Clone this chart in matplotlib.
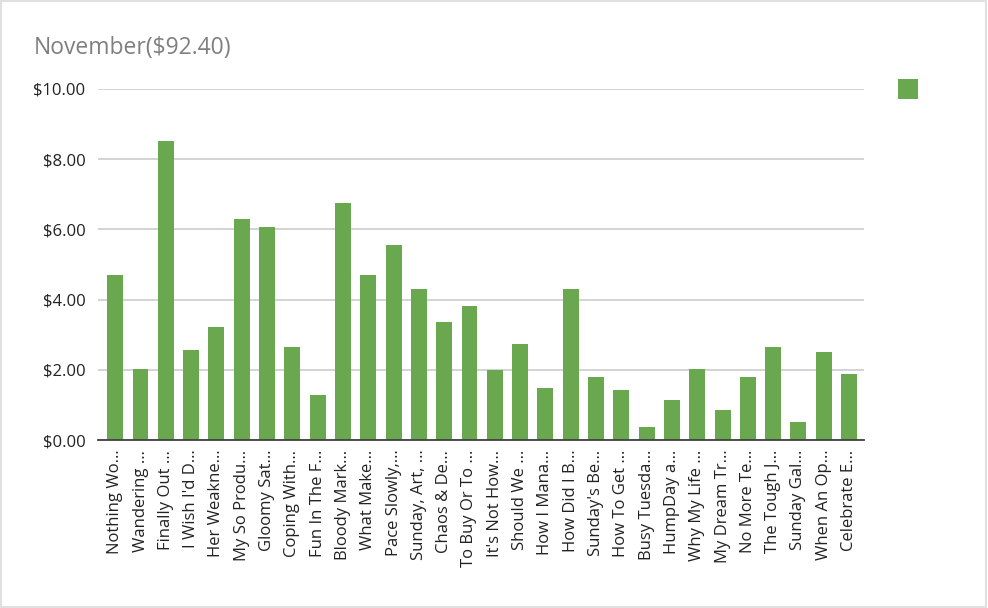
import matplotlib
matplotlib.use("Agg")
import matplotlib.pyplot as plt
from matplotlib.patches import Rectangle

plt.rcParams['font.family'] = ['Open Sans', 'DejaVu Sans']

title = "November($92.40)"
categories = [
    "Nothing Wo…", "Wandering …", "Finally Out …", "I Wish I'd D…", "Her Weakne…",
    "My So Produ…", "Gloomy Sat…", "Coping With…", "Fun In The F…", "Bloody Mark…",
    "What Make…", "Pace Slowly,…", "Sunday, Art, …", "Chaos & De…", "To Buy Or To …",
    "It's Not How…", "Should We …", "How I Mana…", "How Did I B…", "Sunday's Be…",
    "How To Get …", "Busy Tuesda…", "HumpDay a…", "Why My Life …", "My Dream Tr…",
    "No More Te…", "The Tough J…", "Sunday Gal…", "When An Op…", "Celebrate E…",
]
values = [
    4.71, 2.02, 8.53, 2.55, 3.21,
    6.31, 6.08, 2.64, 1.27, 6.74,
    4.71, 5.56, 4.29, 3.35, 3.82,
    1.99, 2.74, 1.47, 4.29, 1.80,
    1.42, 0.38, 1.13, 2.03, 0.85,
    1.80, 2.64, 0.51, 2.50, 1.89,
]
yticks = [0, 2, 4, 6, 8, 10]
ytick_labels = ["$0.00", "$2.00", "$4.00", "$6.00", "$8.00", "$10.00"]
bar_color = "#6AA84F"

W, H = 988, 608
fig = plt.figure(figsize=(W / 100, H / 100), dpi=100)
fig.patch.set_facecolor("white")

ax = fig.add_axes([98 / W, 1 - 440 / H, (864 - 98) / W, (440 - 89) / H])
x = list(range(len(categories)))
bars = ax.bar(x, values, width=0.63, color=bar_color, zorder=3)

ax.set_xlim(-0.68, 29.59)
ax.set_ylim(0, 10)
ax.set_yticks(yticks)
ax.set_yticklabels(ytick_labels, fontsize=12, color="#222222")
ax.set_xticks(x)
ax.set_xticklabels(categories, rotation=90, fontsize=12, color="#222222",
                   va="top", ha="center")
ax.tick_params(axis="both", length=0)
ax.tick_params(axis="y", pad=9)
ax.tick_params(axis="x", pad=7)
ax.grid(axis="y", color="#d0d0d0", linewidth=1.3, zorder=0)
ax.set_axisbelow(True)
for s in ["left", "right", "top"]:
    ax.spines[s].set_visible(False)
ax.spines["bottom"].set_color("#404040")
ax.spines["bottom"].set_linewidth(1.3)
ax.spines["bottom"].set_zorder(4)

fig.text(34 / W, 1 - 54 / H, title, fontsize=16.5, color="#7f7f7f", va="baseline", ha="left")

# legend key (series has no name)
fig.add_artist(Rectangle((898 / W, 1 - 99 / H), 20 / W, 20 / H, transform=fig.transFigure,
                         facecolor=bar_color, edgecolor="none"))

# light figure border
fig.add_artist(Rectangle((0.001, 0.002), 0.997, 0.997, transform=fig.transFigure,
                         fill=False, edgecolor="#e0e0e0", linewidth=1.5))

fig.savefig("out.png", dpi=100)
